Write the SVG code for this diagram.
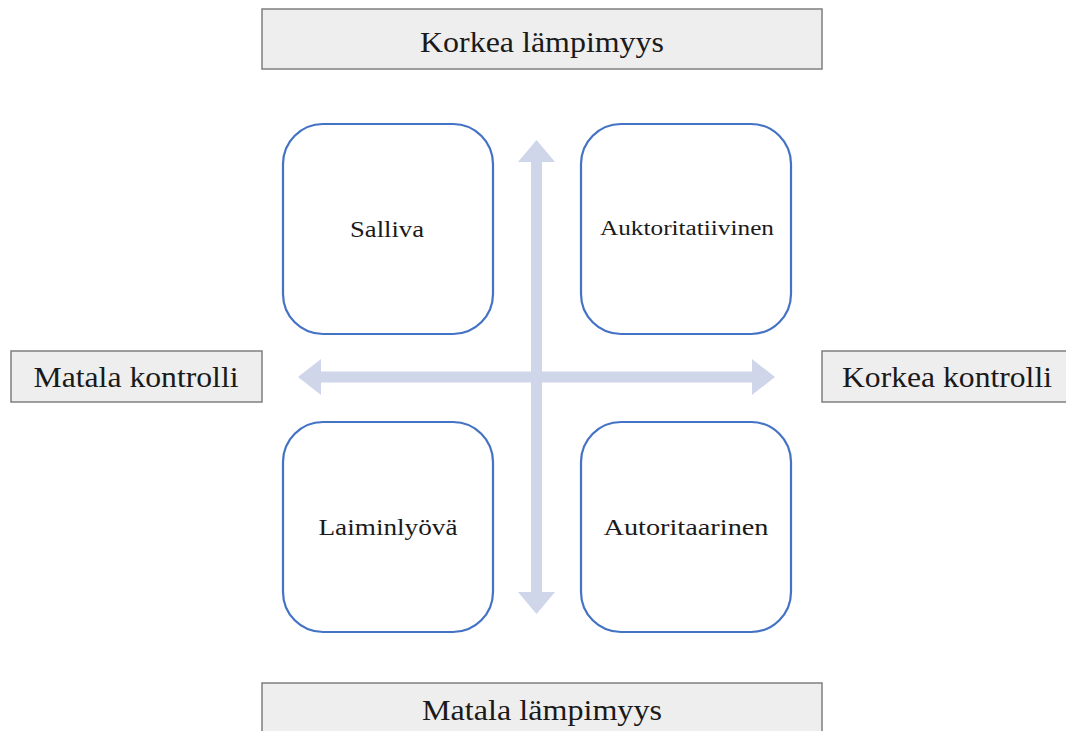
<svg xmlns="http://www.w3.org/2000/svg" width="1066" height="731" viewBox="0 0 1066 731">
<style>
.lbl{fill:#eeeeee;stroke:#7f7f7f;stroke-width:1.5}
.node{fill:#ffffff;stroke:#4472c4;stroke-width:2.2}
text{font-family:"Liberation Serif","DejaVu Serif",serif;fill:#1a1a1a;text-anchor:middle}
.big{font-size:29px}
.mid{font-size:23px}
.arr{fill:#cfd6ea}
</style>
<rect width="1066" height="731" fill="#ffffff"/>
<g id="connectors">
<polygon class="arr" points="531,377 531,162 518,162 536.5,140 555,162 542,162 542,377"/>
<polygon class="arr" points="531,377 542,377 542,592 555,592 536.5,614 518,592 531,592"/>
<polygon class="arr" points="537,371.5 321,371.5 321,359 298,377 321,395 321,382.5 537,382.5"/>
<polygon class="arr" points="537,371.5 752,371.5 752,359 775,377 752,395 752,382.5 537,382.5"/>
</g>
<g id="top-label"><rect class="lbl" x="262" y="9" width="560" height="60"/><text class="big" x="542" y="52" textLength="244" lengthAdjust="spacingAndGlyphs">Korkea lämpimyys</text></g>
<g id="bottom-label"><rect class="lbl" x="262" y="683" width="560" height="60"/><text class="big" x="542" y="720" textLength="240" lengthAdjust="spacingAndGlyphs">Matala lämpimyys</text></g>
<g id="left-label"><rect class="lbl" x="11" y="351" width="251" height="51"/><text class="big" x="136" y="387" textLength="205" lengthAdjust="spacingAndGlyphs">Matala kontrolli</text></g>
<g id="right-label"><rect class="lbl" x="822" y="351" width="250" height="51"/><text class="big" x="947" y="387" textLength="210" lengthAdjust="spacingAndGlyphs">Korkea kontrolli</text></g>
<g id="salliva"><rect class="node" x="283" y="124" width="210" height="210" rx="40"/><text class="mid" x="387" y="237" textLength="74" lengthAdjust="spacingAndGlyphs">Salliva</text></g>
<g id="auktoritatiivinen"><rect class="node" x="581" y="124" width="210" height="210" rx="40"/><text x="687" y="235" style="font-size:20px" textLength="174" lengthAdjust="spacingAndGlyphs">Auktoritatiivinen</text></g>
<g id="laiminlyova"><rect class="node" x="283" y="422" width="210" height="210" rx="40"/><text class="mid" x="388" y="535" textLength="139" lengthAdjust="spacingAndGlyphs">Laiminlyövä</text></g>
<g id="autoritaarinen"><rect class="node" x="581" y="422" width="210" height="210" rx="40"/><text class="mid" x="686" y="535" textLength="165" lengthAdjust="spacingAndGlyphs">Autoritaarinen</text></g>
</svg>
